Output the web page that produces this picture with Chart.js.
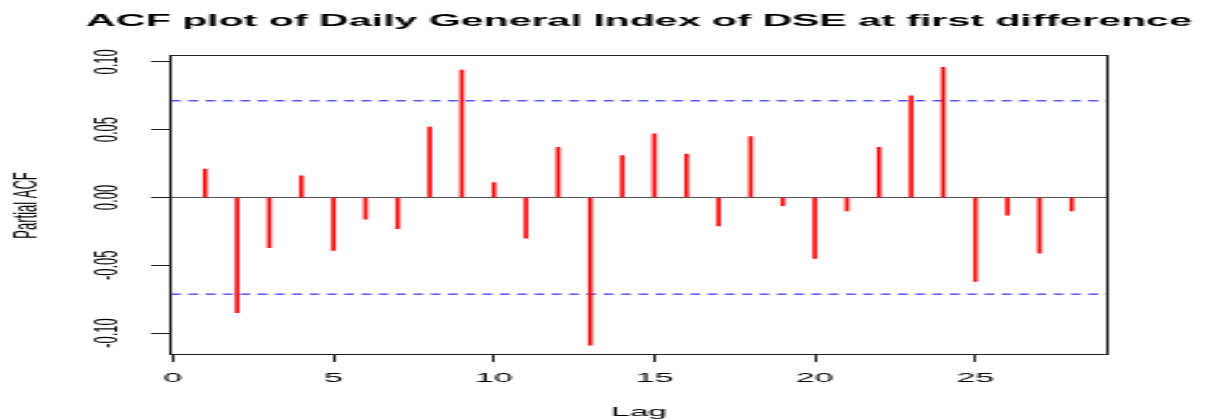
<!DOCTYPE html>
<html>
<head>
<meta charset="utf-8">
<title>PACF plot</title>
<script src="https://cdn.jsdelivr.net/npm/chart.js@4"></script>
<style>
    html, body {
        margin: 0;
        padding: 0;
        background: #ffffff;
        overflow: hidden;
    }

    /* the reference is an R plot stretched sideways, so draw narrow and stretch */
    #wrap {
        width: 463px;
        height: 420px;
        transform: scaleX(2.6026);
        transform-origin: 0 0;
    }
</style>
</head>
<body>

<div id="wrap">
    <canvas id="pacfChart"></canvas>
</div>

<script>
// ================================
// Data
// ================================

const lags = [1, 2, 3, 4, 5, 6, 7, 8, 9, 10, 11, 12, 13, 14,
              15, 16, 17, 18, 19, 20, 21, 22, 23, 24, 25, 26, 27, 28];

const pacf = [0.021, -0.085, -0.037, 0.016, -0.039, -0.016, -0.023, 0.052,
              0.094, 0.011, -0.030, 0.037, -0.109, 0.031, 0.047, 0.032,
              -0.021, 0.045, -0.006, -0.045, -0.010, 0.037, 0.075, 0.096,
              -0.062, -0.013, -0.041, -0.010];

const ciBound = 0.0713;

const xTicks = [0, 5, 10, 15, 20, 25];
const yTicks = [-0.10, -0.05, 0.00, 0.05, 0.10];

const xLimits = [-0.06, 29.1];
const yLimits = [-0.1162, 0.1044];

const titleText = "ACF plot of Daily General Index of DSE at first difference";
const xTitle = "Lag";
const yTitle = "Partial ACF";

// ================================
// Chart
// ================================

const FONT = "'Liberation Sans', Arial, Helvetica, sans-serif";
const INK = "#222222";

const ctx = document.getElementById("pacfChart").getContext("2d");

const chart = new Chart(ctx, {
    type: "bar",
    data: {
        datasets: [
            {
                label: "PACF",
                data: lags.map((lag, i) => ({ x: lag, y: pacf[i] })),
                backgroundColor: "#ff0000",
                borderWidth: 0,
                barThickness: 1,
                grouped: false,
                order: 1
            },
            {
                type: "line",
                label: "upper",
                data: xLimits.map(x => ({ x: x, y: ciBound })),
                borderColor: "#0000ff",
                borderWidth: 1,
                borderDash: [3.8, 2.85],
                pointRadius: 0,
                fill: false,
                order: 2
            },
            {
                type: "line",
                label: "lower",
                data: xLimits.map(x => ({ x: x, y: -ciBound })),
                borderColor: "#0000ff",
                borderWidth: 1,
                borderDash: [3.8, 2.85],
                pointRadius: 0,
                fill: false,
                order: 2
            }
        ]
    },
    options: {
        responsive: true,
        maintainAspectRatio: false,
        animation: false,
        devicePixelRatio: 1,
        layout: {
            padding: { left: 28, right: 0, top: 0, bottom: 0 }
        },
        plugins: {
            legend: { display: false },
            tooltip: { enabled: false },
            title: {
                display: true,
                text: titleText,
                color: "#000000",
                font: { family: FONT, size: 15.8, weight: "bold", lineHeight: 1.2 },
                padding: { top: 12.5, bottom: 24.5 }
            }
        },
        scales: {
            x: {
                type: "linear",
                position: "bottom",
                min: xLimits[0],
                max: xLimits[1],
                offset: false,
                afterBuildTicks: scale => {
                    scale.ticks = xTicks.map(v => ({ value: v }));
                },
                afterFit: scale => {
                    scale.height = 65;
                },
                ticks: {
                    color: "#000000",
                    font: { family: FONT, size: 13 },
                    padding: 8.5,
                    maxRotation: 0,
                    callback: v => String(v)
                },
                grid: {
                    offset: false,
                    drawOnChartArea: false,
                    drawTicks: true,
                    tickLength: 7,
                    tickColor: INK,
                    tickWidth: 1
                },
                border: { display: true, color: INK, width: 1 },
                title: {
                    display: true,
                    text: xTitle,
                    color: "#000000",
                    font: { family: FONT, size: 13, lineHeight: 1.2 },
                    padding: { top: 5.5, bottom: 0 }
                }
            },
            y: {
                type: "linear",
                position: "left",
                min: yLimits[0],
                max: yLimits[1],
                afterBuildTicks: scale => {
                    scale.ticks = yTicks.map(v => ({ value: v }));
                },
                afterFit: scale => {
                    scale.width = 37.7;
                },
                ticks: {
                    color: "#000000",
                    font: { family: FONT, size: 13 },
                    padding: 1.7,
                    minRotation: 90,
                    maxRotation: 90,
                    crossAlign: "center",
                    callback: v => v.toFixed(2)
                },
                grid: {
                    drawOnChartArea: true,
                    drawTicks: true,
                    tickLength: 7.7,
                    tickColor: INK,
                    tickWidth: 1,
                    lineWidth: 1,
                    // only the zero line is drawn inside the box
                    color: c => (c.tick && c.tick.value === 0) ? "#555555" : "rgba(0,0,0,0)"
                },
                border: { display: true, color: INK, width: 1 },
                title: {
                    display: true,
                    text: yTitle,
                    color: "#000000",
                    font: { family: FONT, size: 13, lineHeight: 1.2 },
                    padding: { top: -25.6, bottom: 0 }
                }
            },
            // empty axes, only used for the top and right sides of the box
            xTop: {
                type: "linear",
                axis: "x",
                position: "top",
                afterFit: scale => {
                    scale.height = 0;
                },
                ticks: { display: false },
                grid: { display: false, drawTicks: false },
                border: { display: true, color: INK, width: 1 }
            },
            yRight: {
                type: "linear",
                axis: "y",
                position: "right",
                afterFit: scale => {
                    scale.width = 37.7;
                },
                ticks: { display: false },
                grid: { display: false, drawTicks: false },
                border: { display: true, color: INK, width: 1 }
            }
        }
    }
});
</script>

</body>
</html>
